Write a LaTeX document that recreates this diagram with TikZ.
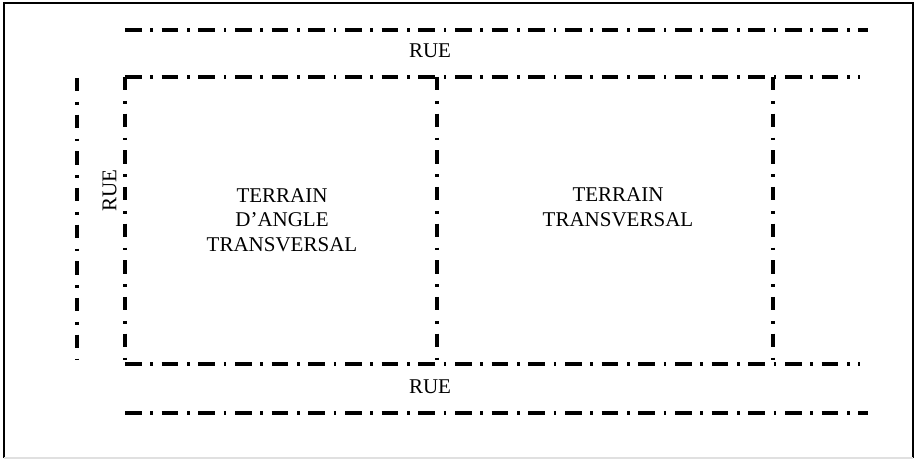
\documentclass[tikz,border=0pt]{standalone}
\usepackage{fontspec}
\setmainfont{Liberation Serif}
\begin{document}
\begin{tikzpicture}[x=0.75pt,y=-0.75pt,
  hline/.style={line width=2.4pt,dash pattern=on 12.5pt off 6.6pt on 2pt off 6.4pt},
  vline/.style={line width=2.4pt,dash pattern=on 10pt off 8pt on 2pt off 7.5pt},
  lbl/.style={font=\fontsize{15.75}{18.5}\selectfont,align=center,inner sep=0pt}]
\useasboundingbox (0,0) rectangle (914,459);
\fill[white] (0,0) rectangle (914,459);
% frame
\draw[line width=2.2pt] (4,458) -- (4,3) -- (913,3) -- (913,458);
\draw[line width=0.8pt,black!12] (4,458) -- (913,458);
% coordinates
\coordinate (rt1) at (125,30);  \coordinate (rt2) at (868,30);
\coordinate (lt1) at (125,77);  \coordinate (lt2) at (860,77);
\coordinate (lb1) at (125,364); \coordinate (lb2) at (860,364);
\coordinate (rb1) at (125,413); \coordinate (rb2) at (868,413);
\coordinate (rl1) at (77,78);   \coordinate (rl2) at (77,359);
\coordinate (m1) at (437,77);   \coordinate (m2) at (437,364);
\coordinate (r1) at (773,77);   \coordinate (r2) at (773,364);
% streets and lots
\draw[hline] (rt1) -- (rt2);
\draw[hline] (lt1) -- (lt2);
\draw[hline] (lb1) -- (lb2);
\draw[hline] (rb1) -- (rb2);
\draw[vline] (rl1) -- (rl2);
\draw[vline] (lt1) -- (lb1);
\draw[vline] (m1) -- (m2);
\draw[vline] (r1) -- (r2);
% labels
\node[lbl] (rueTop) at (430,51) {RUE};
\node[lbl] (rueBot) at (430,387) {RUE};
\node[lbl,rotate=90] (rueLeft) at (109.5,191) {RUE};
\node[lbl] (terrainA) at (282,220) {TERRAIN\\D’ANGLE\\TRANSVERSAL};
\node[lbl] (terrainB) at (618,207.5) {TERRAIN\\TRANSVERSAL};
\end{tikzpicture}
\end{document}
